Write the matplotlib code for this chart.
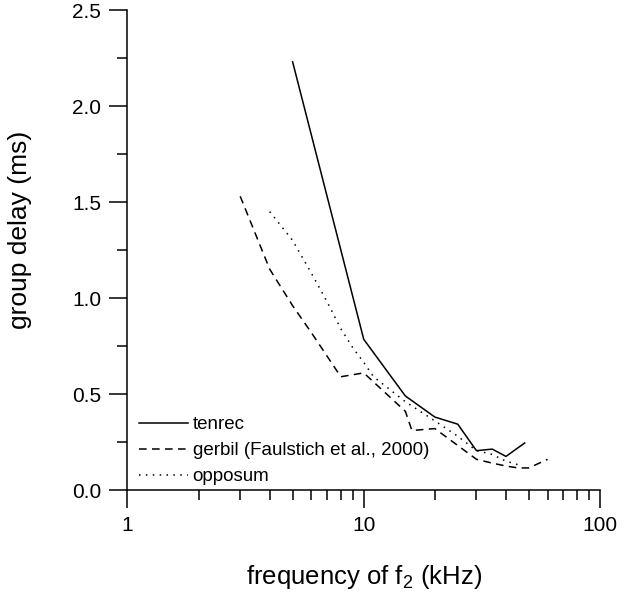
import numpy as np
import matplotlib.pyplot as plt
from matplotlib.ticker import FixedLocator, NullFormatter

plt.rcParams['font.family'] = ['Liberation Sans', 'DejaVu Sans']
plt.rcParams['mathtext.default'] = 'regular'

# values
tenrec_f = [5, 10, 15, 20, 25, 30, 35, 40, 48]
tenrec_d = [2.23, 0.785, 0.49, 0.38, 0.343, 0.205, 0.213, 0.175, 0.245]

gerbil_f = [3, 4, 5, 6, 8, 10, 15, 16, 20, 30, 35, 40, 45, 50, 60]
gerbil_d = [1.53, 1.15, 0.96, 0.82, 0.59, 0.61, 0.41, 0.31, 0.32, 0.16, 0.14, 0.125, 0.115, 0.115, 0.16]

opossum_f = [4, 5, 6, 7, 8, 9, 10, 11, 15, 20, 25, 30, 35, 40, 45]
opossum_d = [1.45, 1.30, 1.13, 0.98, 0.84, 0.74, 0.665, 0.59, 0.46, 0.36, 0.28, 0.205, 0.185, 0.15, 0.132]

labels = ["tenrec", "gerbil (Faulstich et al., 2000)", "opposum"]
xticks = [1, 10, 100]
xtick_labels = ["1", "10", "100"]
yticks = [0.0, 0.5, 1.0, 1.5, 2.0, 2.5]

fig = plt.figure(figsize=(6.24, 6.0), dpi=100)
ax = fig.add_axes([0.2043, 0.1833, 0.7572, 0.8])

lw = 1.1
ax.plot(tenrec_f, tenrec_d, color='black', lw=lw, ls='-', label=labels[0])
ax.plot(gerbil_f, gerbil_d, color='black', lw=lw, ls=(0, (5, 3.5)), label=labels[1])
ax.plot(opossum_f, opossum_d, color='black', lw=lw, ls=(0, (1, 3.5)), label=labels[2])

ax.set_xscale('log')
ax.set_xlim(1, 100)
ax.set_ylim(0, 2.5)
ax.xaxis.set_major_locator(FixedLocator(xticks))
ax.set_xticklabels(xtick_labels)
minors = [m * d for d in (1, 10) for m in range(2, 10)]
ax.xaxis.set_minor_locator(FixedLocator(minors))
ax.xaxis.set_minor_formatter(NullFormatter())
ax.set_yticks(yticks)
ax.set_yticklabels(["%.1f" % v for v in yticks])
ax.yaxis.set_minor_locator(FixedLocator([0.25, 0.75, 1.25, 1.75, 2.25]))

for s in ['top', 'right']:
    ax.spines[s].set_visible(False)
for s in ['left', 'bottom']:
    ax.spines[s].set_linewidth(1.1)

ax.tick_params(which='major', direction='out', length=13, width=1.1, labelsize=15, pad=6)
ax.tick_params(which='minor', direction='out', length=7, width=1.1)

ax.set_xlabel("frequency of f$_2$ (kHz)", fontsize=18.5)
ax.set_ylabel("group delay (ms)", fontsize=19)
ax.xaxis.set_label_coords(0.5, -0.153)
ax.yaxis.set_label_coords(-0.202, 0.542)

ax.legend(loc='lower left', bbox_to_anchor=(0.024, 0.01), frameon=False,
          fontsize=13.5, handlelength=2.6, handletextpad=0.27,
          labelspacing=0.47, borderpad=0, borderaxespad=0)

fig.savefig("out.png", dpi=100)
